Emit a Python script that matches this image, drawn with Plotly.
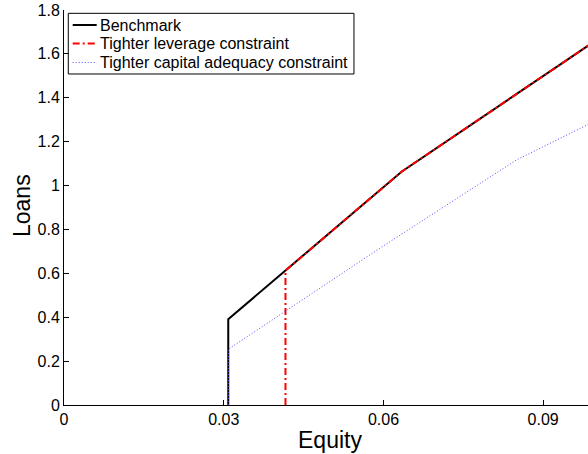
import plotly.graph_objects as go

# Data
bench_x = [0.03085, 0.03085, 0.0416, 0.0634, 0.1]
bench_y = [0.0, 0.391, 0.613, 1.063, 1.663]

lev_x = [0.0416, 0.0416, 0.0634, 0.1]
lev_y = [0.0, 0.613, 1.063, 1.663]

cap_x = [0.03085, 0.03085, 0.0593, 0.0850, 0.1]
cap_y = [0.0, 0.254, 0.714, 1.117, 1.297]

series_names = ["Benchmark", "Tighter leverage constraint", "Tighter capital adequacy constraint"]

x_ticks = [0, 0.03, 0.06, 0.09]
x_ticklabels = ["0", "0.03", "0.06", "0.09"]
y_ticks = [0, 0.2, 0.4, 0.6, 0.8, 1.0, 1.2, 1.4, 1.6, 1.8]
y_ticklabels = ["0", "0.2", "0.4", "0.6", "0.8", "1", "1.2", "1.4", "1.6", "1.8"]

FONT = "Liberation Sans, Arial, Helvetica, sans-serif"
styles = [
    dict(color="black", width=2, dash="solid"),
    dict(color="red", width=2, dash="7px,3px,2px,3px"),
    dict(color="rgb(80,80,255)", width=1, dash="1px,2px"),
]

fig = go.Figure()
for xs, ys, nm, st in zip([bench_x, lev_x, cap_x], [bench_y, lev_y, cap_y], series_names, styles):
    fig.add_trace(go.Scatter(x=xs, y=ys, mode="lines", name=nm, line=st, showlegend=False))

# legend drawn in paper coordinates (box, samples, labels)
shapes = [dict(type="rect", xref="paper", yref="paper", x0=0.0082, x1=0.5534,
               y0=0.838, y1=0.9916, line=dict(color="black", width=1),
               fillcolor="white", layer="above")]
annotations = []
row_y = [0.962, 0.9152, 0.8671]
for nm, st, ry in zip(series_names, styles, row_y):
    shapes.append(dict(type="line", xref="paper", yref="paper", x0=0.0166, x1=0.0624,
                       y0=ry, y1=ry, line=st, layer="above"))
    annotations.append(dict(text=nm, x=0.0655, y=ry, xref="paper", yref="paper",
                            xanchor="left", yanchor="middle", showarrow=False,
                            font=dict(size=16, family=FONT, color="black")))

annotations += [
    dict(text="Equity", x=0.507, y=-0.0886, xref="paper", yref="paper",
         xanchor="center", yanchor="middle", showarrow=False,
         font=dict(size=23, family=FONT, color="black")),
    dict(text="Loans", x=-0.080, y=0.504, xref="paper", yref="paper",
         xanchor="center", yanchor="middle", showarrow=False, textangle=-90,
         font=dict(size=23, family=FONT, color="black")),
]

fig.update_layout(
    width=588, height=454,
    margin=dict(l=64, r=0, t=10, b=49),
    paper_bgcolor="white", plot_bgcolor="white",
    font=dict(family=FONT, size=16, color="black"),
    showlegend=False,
    xaxis=dict(range=[0, 0.09842], tickvals=x_ticks, ticktext=x_ticklabels,
               showgrid=False, zeroline=False, showline=True, linecolor="black",
               linewidth=1, ticks="inside", ticklen=5, tickcolor="black",
               tickfont=dict(size=16, family=FONT), automargin=False),
    yaxis=dict(range=[0, 1.8], tickvals=y_ticks, ticktext=y_ticklabels,
               showgrid=False, zeroline=False, showline=True, linecolor="black",
               linewidth=1, ticks="inside", ticklen=5, tickcolor="black",
               tickfont=dict(size=16, family=FONT), automargin=False),
    shapes=shapes,
    annotations=annotations,
)

fig.write_html("out.html", config={"displayModeBar": False},
               post_script="document.body.style.margin='0';document.body.style.padding='0';")
